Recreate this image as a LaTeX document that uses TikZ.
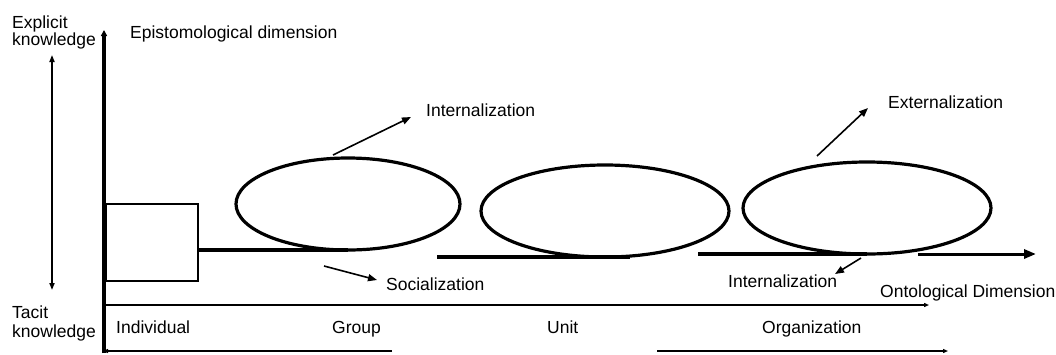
\documentclass[tikz,border=0pt]{standalone}
\usepackage{fontspec}
\setmainfont{Liberation Sans}
\usetikzlibrary{arrows.meta}
\begin{document}
\begin{tikzpicture}[x=1pt,y=-1pt,
  lbl/.style={anchor=base west,inner sep=0pt,font=\fontsize{17.5}{19}\selectfont},
  thin/.style={line width=1.6pt},
  thick/.style={line width=3.6pt},
  loop/.style={line width=3.2pt},
  tip/.style={-{Triangle[length=9pt,width=7pt]}},
  smalltip/.style={-{Triangle[length=5pt,width=4pt]}}]
\useasboundingbox (0,0) rectangle (1056,354);
% texts
\node[lbl] (ex1) at (12,28) {Explicit};
\node[lbl] (ex2) at (12,45) {knowledge};
\node[lbl] (ta1) at (12,318) {Tacit};
\node[lbl] (ta2) at (12,337) {knowledge};
\node[lbl] (epi) at (130,38) {Epistomological dimension};
\node[lbl] (int1) at (426,116) {Internalization};
\node[lbl] (soc) at (386,290) {Socialization};
\node[lbl] (ext) at (888,108) {Externalization};
\node[lbl] (int2) at (728,287) {Internalization};
\node[lbl] (ont) at (880,297) {Ontological Dimension};
\node[lbl] (ind) at (116,333) {Individual};
\node[lbl] (grp) at (332,333) {Group};
\node[lbl] (unit) at (547,333) {Unit};
\node[lbl] (org) at (762,333) {Organization};
% coordinates
\coordinate (vb) at (104,353);
\coordinate (vt) at (104,30);
\coordinate (kb) at (52,290);
\coordinate (kt) at (52,55);
\coordinate (hl) at (104,305);
\coordinate (hr) at (929,305);
\coordinate (bl1) at (392,351);
\coordinate (bl2) at (103,351);
\coordinate (br1) at (657,351);
\coordinate (br2) at (948,351);
% axes
\draw[thick,-{Triangle[length=6pt,width=6pt]}] (vb) -- (vt);
\draw[thin,{Triangle[length=7pt,width=5pt]}-{Triangle[length=7pt,width=5pt]}] (kb) -- (kt);
\draw[thin,smalltip] (hl) -- (hr);
\draw[thin,smalltip] (bl1) -- (bl2);
\draw[thin,smalltip] (br1) -- (br2);
% individual box
\node[draw,line width=2pt,minimum width=92pt,minimum height=77pt,inner sep=0pt,anchor=north west] (box) at (105,203) {};
% loop 1
\coordinate (l1s) at (box.east |- 0,250);
\coordinate (l1c) at (348,204);
\coordinate (l1b) at (348,250);
\draw[thick] (l1s) -- (l1b);
\draw[loop] (l1c) ellipse [x radius=112pt, y radius=46pt];
% loop 2
\coordinate (l2s) at (437,257);
\coordinate (l2e) at (630,257);
\coordinate (l2c) at (605,211);
\draw[thick] (l2s) -- (l2e);
\draw[loop] (l2c) ellipse [x radius=124pt, y radius=46pt];
% loop 3
\coordinate (l3s) at (698,254);
\coordinate (l3e) at (867,254);
\coordinate (l3c) at (867,208);
\draw[thick] (l3s) -- (l3e);
\draw[loop] (l3c) ellipse [x radius=124pt, y radius=46pt];
\coordinate (oa1) at (918,254);
\coordinate (oa2) at (1036,254);
\draw[line width=3pt,-{Triangle[length=12pt,width=9pt]}] (oa1) -- (oa2);
% small arrows
\coordinate (a1s) at (333,155); \coordinate (a1e) at (411,117);
\draw[thin,tip] (a1s) -- (a1e);
\coordinate (a2s) at (324,266); \coordinate (a2e) at (377,280);
\draw[thin,tip] (a2s) -- (a2e);
\coordinate (a3s) at (817,156); \coordinate (a3e) at (868,108);
\draw[thin,tip] (a3s) -- (a3e);
\coordinate (a4s) at (861,258); \coordinate (a4e) at (835,274);
\draw[thin,tip] (a4s) -- (a4e);
\end{tikzpicture}
\end{document}
